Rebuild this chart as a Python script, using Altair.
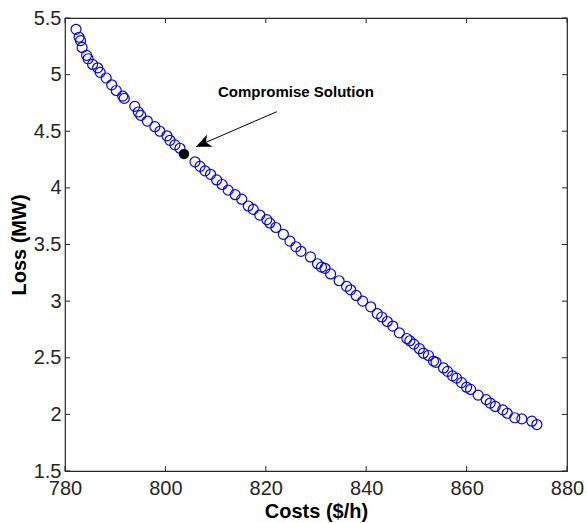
import altair as alt
import pandas as pd

# Pareto front
costs = [782.2, 782.8, 783.1, 783.4, 784.3, 784.6, 785.5, 786.5, 787.0, 788.2,
         789.3, 790.2, 791.5, 791.8, 793.9, 794.6, 795.1, 796.4, 797.9, 798.9,
         800.3, 800.9, 801.9, 802.9, 805.9, 806.9, 807.9, 809.0, 810.2, 811.3,
         812.5, 813.9, 815.2, 816.5, 817.5, 818.8, 820.2, 820.8, 822.0, 823.5,
         824.8, 826.0, 827.0, 828.9, 830.3, 831.1, 831.8, 832.9, 834.6, 836.1,
         836.9, 838.0, 839.3, 840.9, 842.2, 843.1, 844.2, 845.3, 846.6, 848.1,
         848.7, 849.5, 850.6, 851.4, 852.4, 853.4, 853.9, 855.4, 856.2, 857.2,
         858.0, 859.0, 860.0, 860.8, 862.3, 863.9, 864.7, 865.7, 867.2, 868.1,
         869.6, 871.0, 873.0, 874.0]
losses = [5.40, 5.33, 5.30, 5.24, 5.17, 5.14, 5.09, 5.06, 5.02, 4.97,
          4.91, 4.86, 4.81, 4.79, 4.72, 4.67, 4.64, 4.59, 4.54, 4.50,
          4.46, 4.42, 4.38, 4.35, 4.23, 4.19, 4.15, 4.12, 4.07, 4.03,
          3.98, 3.94, 3.90, 3.84, 3.81, 3.76, 3.72, 3.69, 3.65, 3.59,
          3.53, 3.48, 3.44, 3.39, 3.33, 3.30, 3.29, 3.24, 3.18, 3.13,
          3.10, 3.05, 3.00, 2.95, 2.89, 2.86, 2.82, 2.78, 2.72, 2.67,
          2.65, 2.62, 2.58, 2.54, 2.52, 2.47, 2.46, 2.41, 2.38, 2.34,
          2.32, 2.28, 2.24, 2.22, 2.17, 2.13, 2.10, 2.07, 2.04, 2.01,
          1.97, 1.96, 1.94, 1.91]

compromise_cost = [803.7]
compromise_loss = [4.30]

annotation_text = ["Compromise Solution"]
annotation_cost = [826.0]
annotation_loss = [4.847]

arrow_start_cost = [822.2]
arrow_start_loss = [4.673]
arrow_tip_cost = [806.1]
arrow_tip_loss = [4.364]

x_ticks = [780, 800, 820, 840, 860, 880]
y_ticks = [1.5, 2, 2.5, 3, 3.5, 4, 4.5, 5, 5.5]

W, H = 502, 453
FONT = "Liberation Sans"
AX = "#262626"

xs = alt.Scale(domain=[780, 880], nice=False, zero=False)
ys = alt.Scale(domain=[1.5, 5.5], nice=False, zero=False)

x_axis = alt.Axis(
    values=x_ticks, title="Costs ($/h)", ticks=False, domain=False, grid=False,
    labelFontSize=20, labelFont=FONT, labelColor=AX, labelPadding=7,
    titleFontSize=20, titleFont=FONT, titleFontWeight="bold", titleColor="black",
    titlePadding=3, labelFlush=False)
y_axis = alt.Axis(
    values=y_ticks, title="Loss (MW)", ticks=False, domain=False, grid=False,
    format="~g", labelFontSize=20, labelFont=FONT, labelColor=AX, labelPadding=4,
    titleFontSize=20, titleFont=FONT, titleFontWeight="bold", titleColor="black",
    titlePadding=4, labelFlush=False)


def X(field):
    return alt.X(field, scale=xs, axis=x_axis, title="Costs ($/h)")


def Y(field):
    return alt.Y(field, scale=ys, axis=y_axis, title="Loss (MW)")


pts = pd.DataFrame({"cost": costs, "loss": losses})
main = alt.Chart(pts).mark_point(
    shape="circle", filled=False, color="#0000FF", size=100, strokeWidth=1.2, opacity=1
).encode(x=X("cost:Q"), y=Y("loss:Q"))

comp = alt.Chart(pd.DataFrame({"cost": compromise_cost, "loss": compromise_loss})).mark_point(
    shape="circle", filled=True, color="black", size=110, opacity=1
).encode(x=X("cost:Q"), y=Y("loss:Q"))

arrow_df = pd.DataFrame({"x": arrow_start_cost, "y": arrow_start_loss,
                         "x2": arrow_tip_cost, "y2": arrow_tip_loss})
arrow_line = alt.Chart(arrow_df).mark_rule(color="black", strokeWidth=1).encode(
    x=X("x:Q"), y=Y("y:Q"), x2="x2:Q", y2="y2:Q")
arrow_head = alt.Chart(arrow_df).mark_point(
    shape="M0,0 L-1,-0.45 L-0.72,0 L-1,0.45 Z", filled=True, color="black",
    size=900, angle=156.5, opacity=1
).encode(x=X("x2:Q"), y=Y("y2:Q"))

label = alt.Chart(pd.DataFrame({"x": annotation_cost, "y": annotation_loss, "t": annotation_text})).mark_text(
    font=FONT, fontSize=15, fontWeight="bold", color="black", align="center", baseline="middle"
).encode(x=X("x:Q"), y=Y("y:Q"), text="t:N")

xt = pd.DataFrame({"v": x_ticks})
yt = pd.DataFrame({"v": y_ticks})
tick_style = dict(color=AX, strokeWidth=1)
bottom_ticks = alt.Chart(xt).mark_rule(**tick_style).encode(
    x=X("v:Q"), y=alt.value(H), y2=alt.value(H - 5))
top_ticks = alt.Chart(xt).mark_rule(**tick_style).encode(
    x=X("v:Q"), y=alt.value(0), y2=alt.value(5))
left_ticks = alt.Chart(yt).mark_rule(**tick_style).encode(
    y=Y("v:Q"), x=alt.value(0), x2=alt.value(5))
right_ticks = alt.Chart(yt).mark_rule(**tick_style).encode(
    y=Y("v:Q"), x=alt.value(W), x2=alt.value(W - 5))

chart = alt.layer(
    main, bottom_ticks, top_ticks, left_ticks, right_ticks,
    arrow_line, arrow_head, comp, label
).properties(
    width=W, height=H,
    autosize=alt.AutoSizeParams(type="none"),
    padding={"left": 65, "top": 18, "right": 20, "bottom": 52},
    background="white",
).configure_view(stroke=AX, strokeWidth=1.2)

chart.save("out.html", embed_options={"renderer": "svg", "actions": False})
